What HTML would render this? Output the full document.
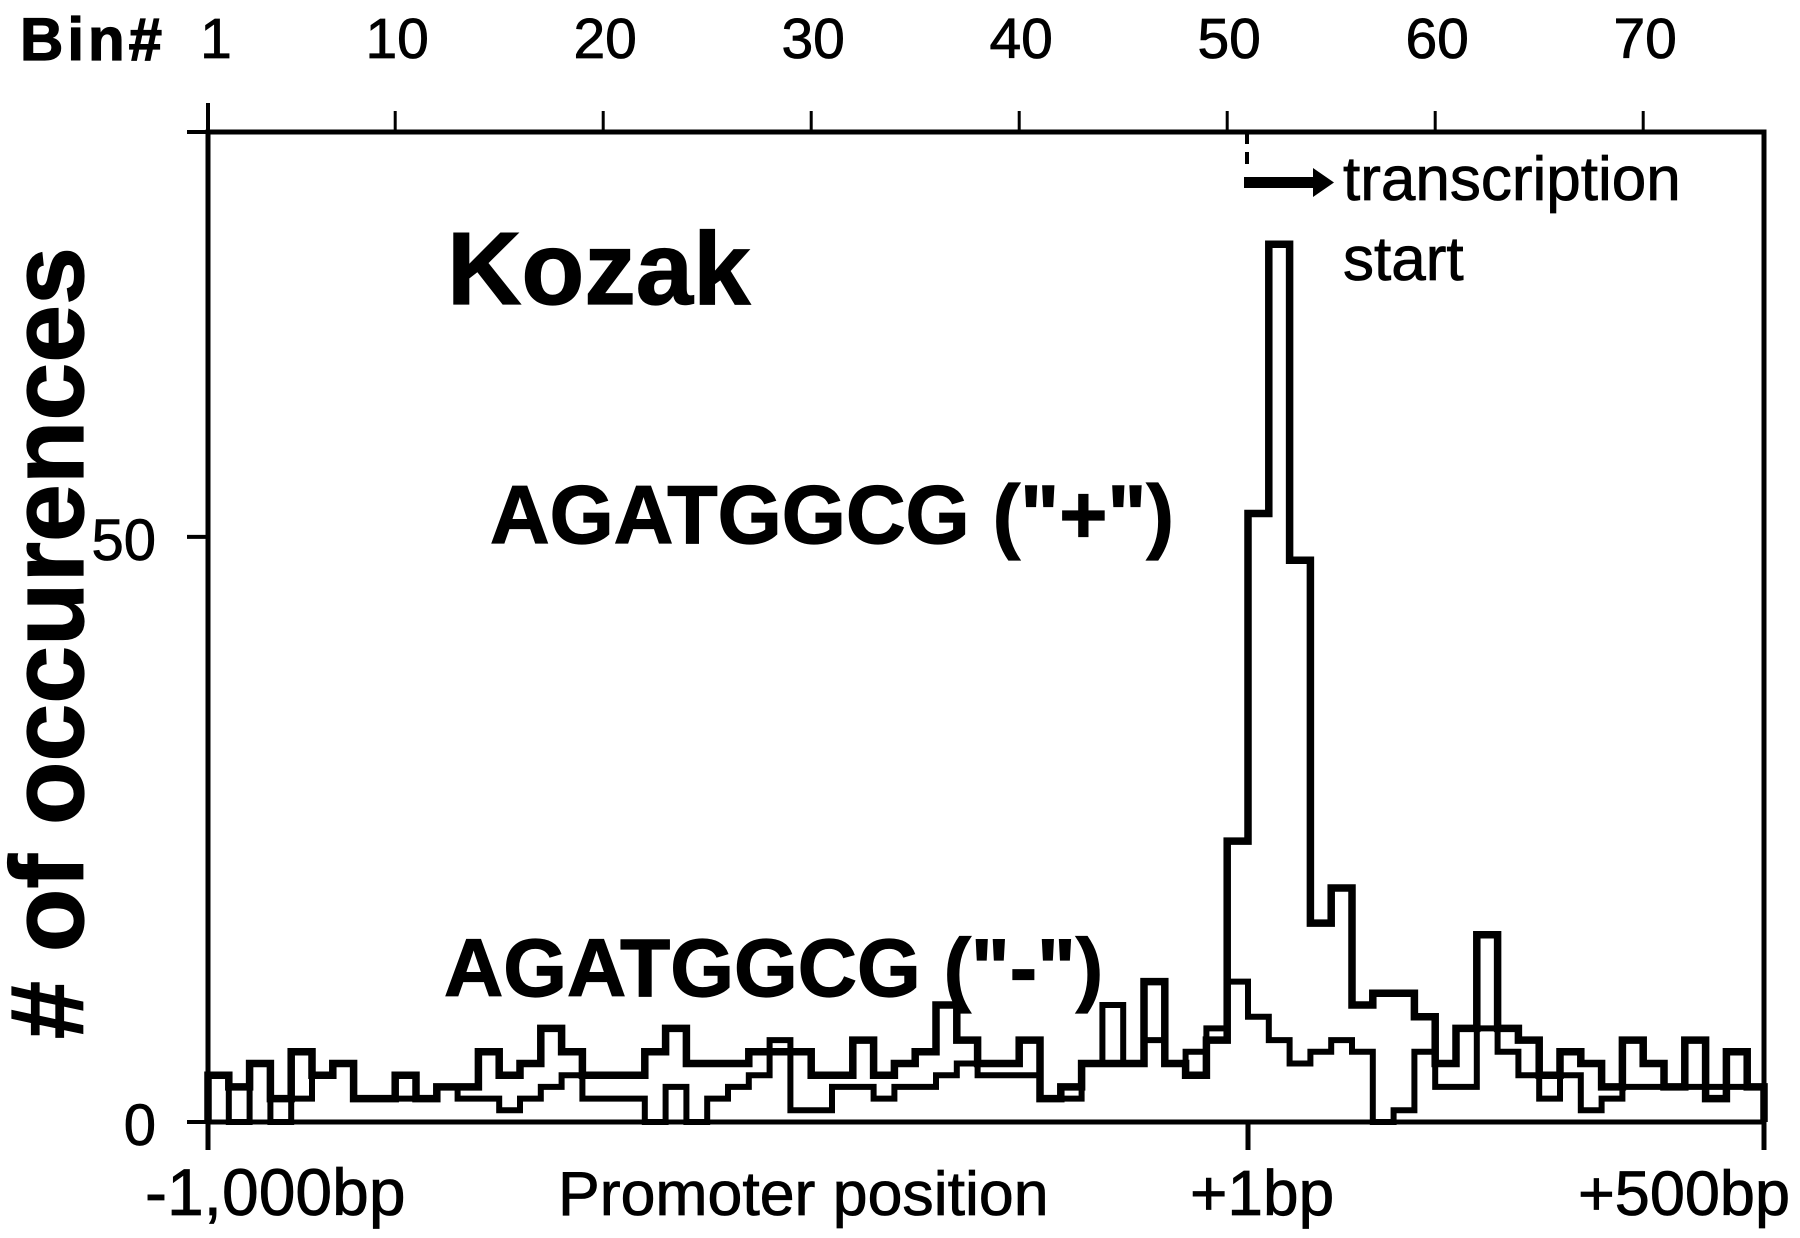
<!DOCTYPE html>
<html lang="en">
<head>
<meta charset="utf-8">
<title>Kozak promoter position histogram</title>
<style>
html,body{margin:0;padding:0;background:#fff;width:1800px;height:1238px;overflow:hidden}
svg{display:block}
text{font-family:"Liberation Sans",Arial,sans-serif;fill:#000;stroke:#000;stroke-width:0.8px}
.b{font-weight:bold;stroke-width:1.2px}
</style>
</head>
<body>
<svg id="chart" xmlns="http://www.w3.org/2000/svg" width="1800" height="1238" viewBox="0 0 1800 1238">
  <rect x="0" y="0" width="1800" height="1238" fill="#fff"/>
  <rect x="208" y="132" width="1556" height="990" fill="none" stroke="#000" stroke-width="5"/>
  <g id="series-layer"></g>
  <g id="axis-layer"></g>

  <text class="b" x="20" y="60" font-size="60" letter-spacing="4">Bin#</text>
  <text class="b" font-size="104" text-anchor="middle" transform="translate(83 643) rotate(-90)"># of occurences</text>
  <text class="b" x="447" y="304" font-size="103">Kozak</text>
  <text class="b" x="490" y="543" font-size="82.5">AGATGGCG ("+")</text>
  <text class="b" x="444" y="996" font-size="82">AGATGGCG ("-")</text>

  <g>
    <path d="M1247 132V168" stroke="#000" stroke-width="4" stroke-dasharray="12 8" fill="none"/>
    <path d="M1244 177H1313V168L1334 182.500L1313 197V188H1244Z" fill="#000"/>
    <text x="1343" y="200" font-size="62">transcription</text>
    <text x="1343" y="280" font-size="62">start</text>
  </g>

  <text x="145" y="1215" font-size="66">-1,000bp</text>
  <text x="558" y="1215" font-size="62.600">Promoter position</text>
  <text x="1190" y="1215" font-size="64">+1bp</text>
  <text x="1578" y="1215" font-size="63">+500bp</text>
</svg>
<script>
var plusCounts = [
  4,3,5,2,6,4,5,2,2,4,
  2,3,3,6,4,5,8,6,4,4,
  4,6,8,5,5,5,6,6,6,4,
  4,7,4,5,6,10,7,5,5,7,
  2,3,5,5,5,12,5,4,7,24,
  52,75,48,17,20,10,11,11,9,5,
  8,16,8,7,4,6,5,3,7,5,
  3,7,2,6,3
];
var minusCounts = [
  4,0,5,0,2,4,5,2,2,2,
  2,3,2,2,1,2,3,4,2,2,
  2,0,3,0,2,3,4,7,1,1,
  3,3,2,3,3,4,5,4,4,4,
  2,2,5,10,5,7,5,6,8,12,
  9,7,5,6,7,6,0,1,6,3,
  3,8,6,4,2,4,1,2,3,3,
  3,3,3,3,3
];
var binTicks = [1,10,20,30,40,50,60,70];
var yTicks = [0,50];

var NS = 'http://www.w3.org/2000/svg';
var plotLeft = 208, plotRight = 1764, plotTop = 132, plotBottom = 1122;
var binWidth = 20.8, unitsPerPlot = 84.6;

function xEdge(k){ return Math.min(plotRight, plotLeft + binWidth * k); }
function yVal(v){ return plotBottom - (plotBottom - plotTop) * v / unitsPerPlot; }

function stepPath(values){
  var d = 'M' + xEdge(0).toFixed(1) + ' ' + yVal(0).toFixed(1);
  for (var i = 0; i < values.length; i++){
    d += 'L' + xEdge(i).toFixed(1) + ' ' + yVal(values[i]).toFixed(1);
    d += 'L' + xEdge(i + 1).toFixed(1) + ' ' + yVal(values[i]).toFixed(1);
  }
  d += 'L' + xEdge(values.length).toFixed(1) + ' ' + yVal(0).toFixed(1);
  return d;
}

function line(parent, x1, y1, x2, y2, w){
  var l = document.createElementNS(NS, 'line');
  l.setAttribute('x1', x1);
  l.setAttribute('y1', y1);
  l.setAttribute('x2', x2);
  l.setAttribute('y2', y2);
  l.setAttribute('stroke', '#000');
  l.setAttribute('stroke-width', w);
  parent.appendChild(l);
  return l;
}

var seriesLayer = document.getElementById('series-layer');
var axisLayer = document.getElementById('axis-layer');

var minusPath = document.createElementNS(NS, 'path');


minusPath.setAttribute('d', stepPath(minusCounts));
minusPath.setAttribute('fill', 'none');
minusPath.setAttribute('stroke', '#000');
minusPath.setAttribute('stroke-width', '6');
seriesLayer.appendChild(minusPath);

var plusPath = document.createElementNS(NS, 'path');


plusPath.setAttribute('d', stepPath(plusCounts));
plusPath.setAttribute('fill', 'none');
plusPath.setAttribute('stroke', '#000');
plusPath.setAttribute('stroke-width', '7.5');
seriesLayer.appendChild(plusPath);

binTicks.forEach(function(b){
  var x = xEdge(b - 1);
  var tick = line(axisLayer, x, b === 1 ? 103 : 111, x, b === 1 ? 150 : plotTop, b === 1 ? 4 : 3);
  
  
  var t = document.createElementNS(NS, 'text');
  
  
  t.setAttribute('x', b === 1 ? x + 8 : x + 2);
  t.setAttribute('y', 58);
  t.setAttribute('font-size', '57');
  t.setAttribute('text-anchor', 'middle');
  t.textContent = String(b);
  axisLayer.appendChild(t);
});

yTicks.forEach(function(v){
  var y = yVal(v);
  var tick = line(axisLayer, 187, y, plotLeft, y, 4);
  
  
  var t = document.createElementNS(NS, 'text');
  
  
  t.setAttribute('x', 156);
  t.setAttribute('y', y + 23);
  t.setAttribute('font-size', '58');
  t.setAttribute('text-anchor', 'end');
  t.textContent = String(v);
  axisLayer.appendChild(t);
});

var cornerTick = line(axisLayer, 187, plotTop, plotLeft, plotTop, 4);



[0, 50, 75].forEach(function(k){
  var x = xEdge(k);
  var tick = line(axisLayer, x, plotBottom, x, 1150, 5);
  
  
});
</script>
</body>
</html>
